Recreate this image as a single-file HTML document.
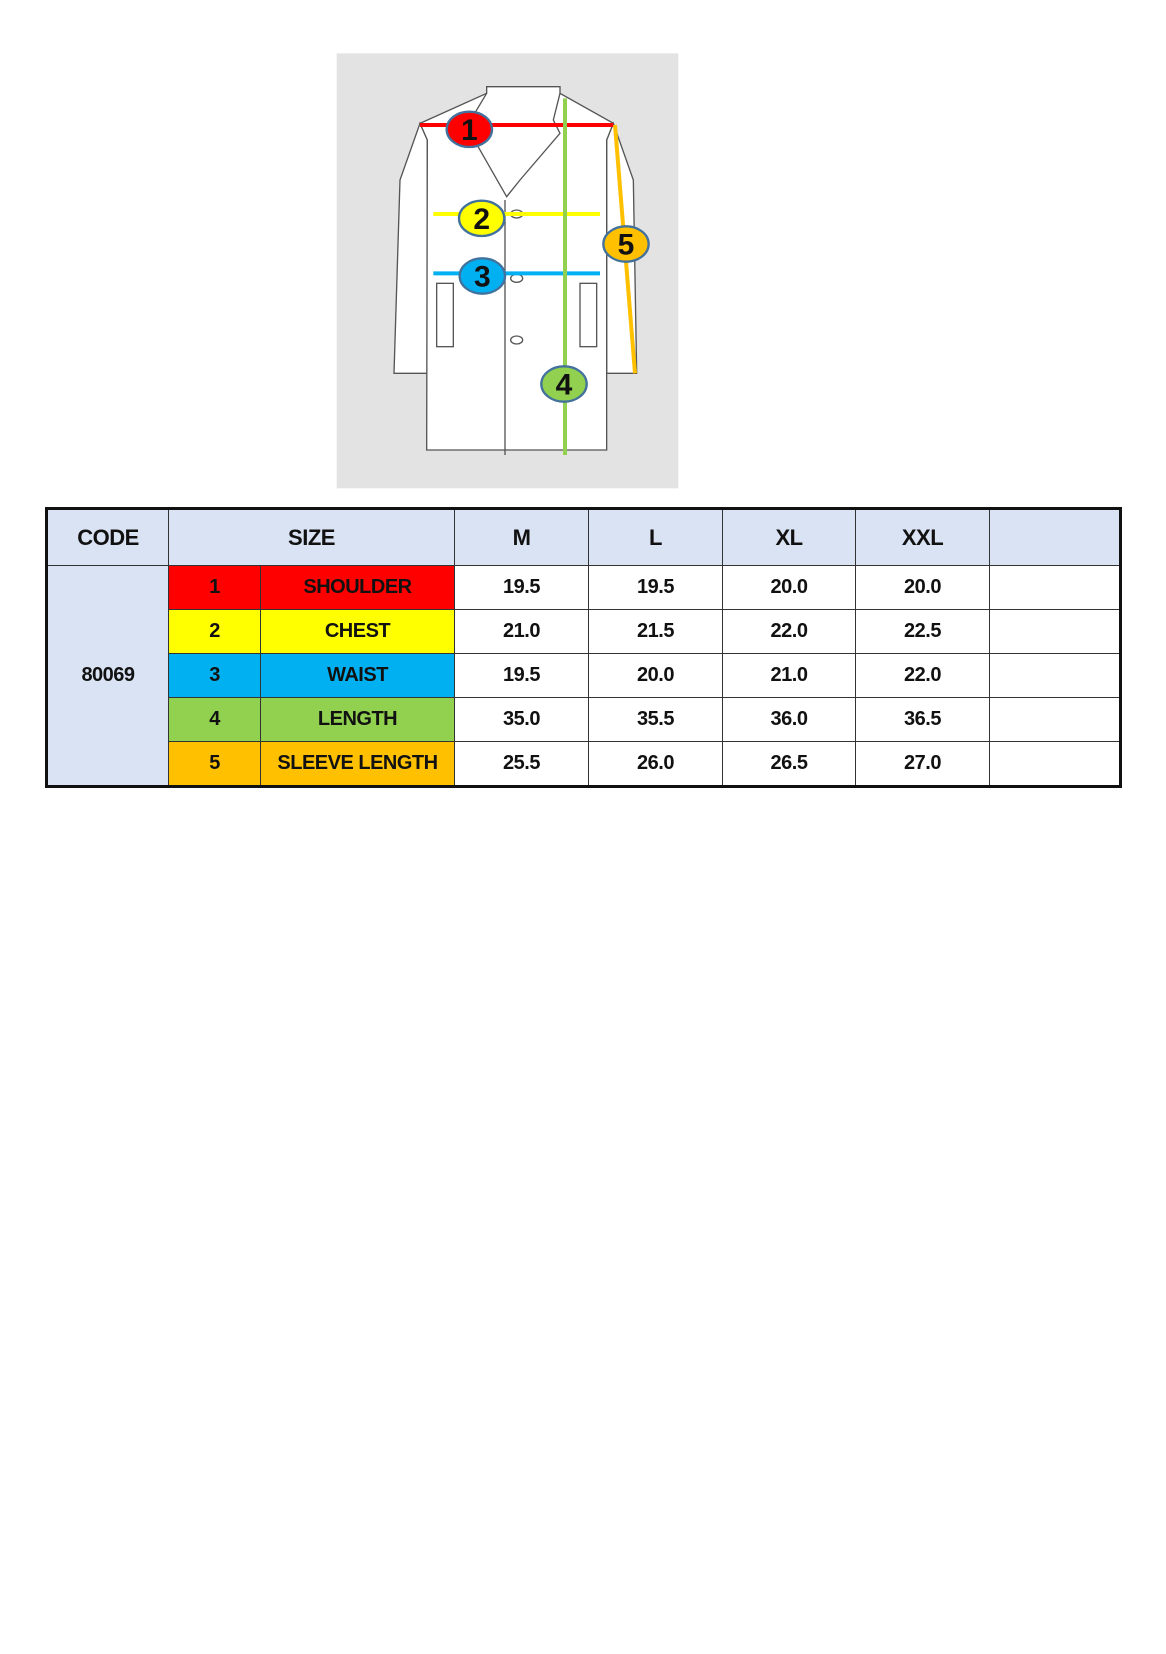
<!DOCTYPE html>
<html><head><meta charset="utf-8"><style>
body{margin:0;width:1166px;height:1654px;background:#fff;position:relative;font-family:"Liberation Sans",sans-serif;}
svg.coat{position:absolute;left:320px;top:40px;}
table{position:absolute;left:45px;top:507px;border-collapse:collapse;border:3px solid #111;table-layout:fixed;width:1074px;}
td{border:1px solid #333;text-align:center;font-weight:bold;font-size:20px;padding:0;color:#111;letter-spacing:-0.5px;}
tr.h td{height:55px;background:#dae3f3;font-size:22px;}
tr.r td{height:43px;}
.hd{background:#dae3f3;}
</style></head><body>
<svg class="coat" width="380" height="460" viewBox="0 0 1140 1380">
<rect x="50" y="40" width="1025" height="1305" fill="#e3e3e3"/>
<g fill="#fff" stroke="#555" stroke-width="4">
<path d="M300 250 L240 420 L222 1000 L322 1000 L322 300 Z"/>
<path d="M880 250 L940 420 L950 1000 L860 1000 L860 300 Z"/>
<path d="M300 250 L500 160 L500 140 L720 140 L720 160 L880 250 L860 300 L860 1230 L320 1230 L322 300 Z"/>
<path d="M500 160 L440 260 L560 470 L600 420 L720 280 L700 240 L720 160" fill="none"/>
<path d="M555 480 L555 1245" fill="none"/>
<rect x="350" y="730" width="50" height="190" fill="none"/>
<rect x="780" y="730" width="50" height="190" fill="none"/>
<ellipse cx="590" cy="522" rx="18" ry="12"/><ellipse cx="590" cy="715" rx="18" ry="12"/><ellipse cx="590" cy="900" rx="18" ry="12"/>
</g>
<line x1="300" y1="255" x2="880" y2="255" stroke="#ff0000" stroke-width="12"/>
<line x1="340" y1="522" x2="840" y2="522" stroke="#ffff00" stroke-width="12"/>
<line x1="340" y1="700" x2="840" y2="700" stroke="#00b0f0" stroke-width="12"/>
<line x1="735" y1="175" x2="735" y2="1245" stroke="#92d050" stroke-width="12"/>
<line x1="885" y1="255" x2="945" y2="1000" stroke="#ffc000" stroke-width="12"/>
<g stroke="#41719c" stroke-width="7" font-family="Liberation Sans,sans-serif" font-weight="bold" font-size="90" text-anchor="middle">
<ellipse cx="448" cy="268" rx="68" ry="53" fill="#ff0000"/><text x="448" y="300" stroke="none" fill="#111">1</text>
<ellipse cx="485" cy="535" rx="68" ry="53" fill="#ffff00"/><text x="485" y="567" stroke="none" fill="#111">2</text>
<ellipse cx="487" cy="708" rx="68" ry="53" fill="#00b0f0"/><text x="487" y="740" stroke="none" fill="#111">3</text>
<ellipse cx="918" cy="612" rx="68" ry="53" fill="#ffc000"/><text x="918" y="644" stroke="none" fill="#111">5</text>
<ellipse cx="732" cy="1032" rx="68" ry="53" fill="#92d050"/><text x="732" y="1064" stroke="none" fill="#111">4</text>
</g>
</svg>
<table>
<colgroup><col style="width:122px"><col style="width:92px"><col style="width:194px"><col style="width:134px"><col style="width:134px"><col style="width:133px"><col style="width:134px"><col style="width:131px"></colgroup>
<tr class="h"><td>CODE</td><td colspan="2">SIZE</td><td>M</td><td>L</td><td>XL</td><td>XXL</td><td></td></tr>
<tr class="r"><td rowspan="5" class="hd">80069</td><td style="background:#ff0000">1</td><td style="background:#ff0000">SHOULDER</td><td>19.5</td><td>19.5</td><td>20.0</td><td>20.0</td><td></td></tr>
<tr class="r"><td style="background:#ffff00">2</td><td style="background:#ffff00">CHEST</td><td>21.0</td><td>21.5</td><td>22.0</td><td>22.5</td><td></td></tr>
<tr class="r"><td style="background:#00b0f0">3</td><td style="background:#00b0f0">WAIST</td><td>19.5</td><td>20.0</td><td>21.0</td><td>22.0</td><td></td></tr>
<tr class="r"><td style="background:#92d050">4</td><td style="background:#92d050">LENGTH</td><td>35.0</td><td>35.5</td><td>36.0</td><td>36.5</td><td></td></tr>
<tr class="r"><td style="background:#ffc000">5</td><td style="background:#ffc000">SLEEVE LENGTH</td><td>25.5</td><td>26.0</td><td>26.5</td><td>27.0</td><td></td></tr>
</table>
</body></html>
